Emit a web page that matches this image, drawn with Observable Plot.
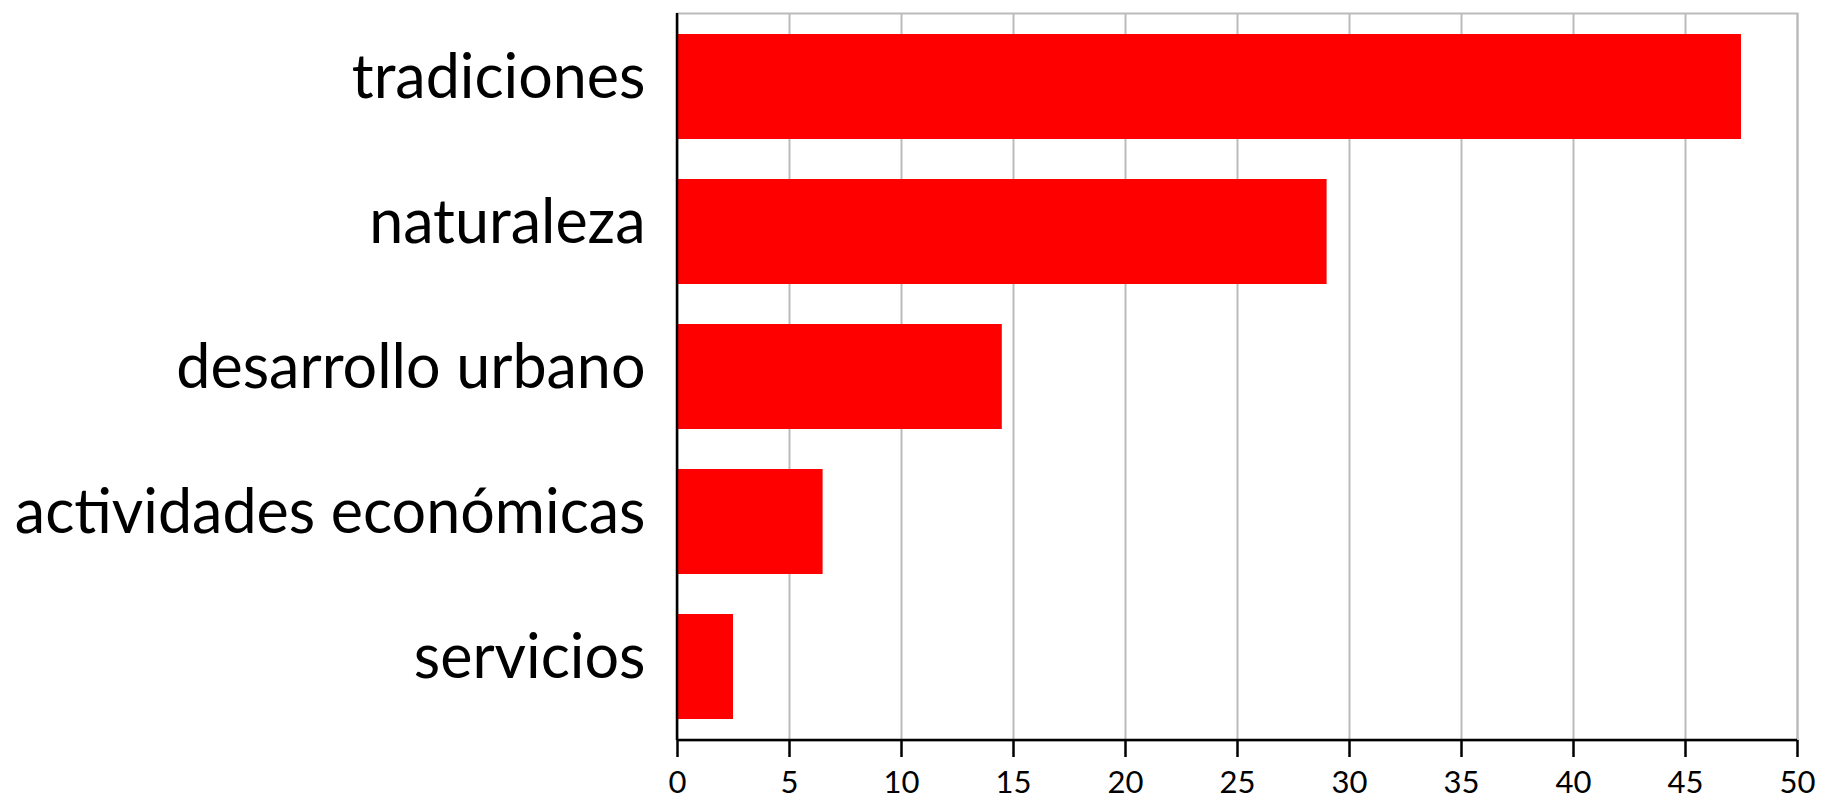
<!DOCTYPE html>
<html>
<head>
<meta charset="utf-8">
<script src="https://cdn.jsdelivr.net/npm/d3@7"></script>
<script src="https://cdn.jsdelivr.net/npm/@observablehq/plot@0.6"></script>
<style>
  html, body { margin: 0; padding: 0; background: #fff; }
  #chart svg { display: block; }
</style>
</head>
<body>
<div id="chart"></div>
<script>
const categories = ["tradiciones", "naturaleza", "desarrollo urbano", "actividades económicas", "servicios"];
const values = [47.5, 29, 14.5, 6.5, 2.5];
const xTicks = [0, 5, 10, 15, 20, 25, 30, 35, 40, 45, 50];

const data = categories.map((c, i) => ({category: c, value: values[i]}));

const axisLines = (index, scales, values, dims) => {
  const g = d3.create("svg:g");
  const x0 = scales.x(0);
  const yTop = dims.marginTop;
  const yBot = dims.height - dims.marginBottom;
  const xRight = dims.width - dims.marginRight;
  g.append("line").attr("x1", x0).attr("x2", x0).attr("y1", yTop).attr("y2", yBot)
    .attr("stroke", "#000").attr("stroke-width", 2.5);
  g.append("line").attr("x1", x0).attr("x2", xRight).attr("y1", yBot).attr("y2", yBot)
    .attr("stroke", "#000").attr("stroke-width", 2.5);
  return g.node();
};

const chart = Plot.plot({
  width: 1823,
  height: 803,
  marginLeft: 677,
  marginRight: 26,
  marginTop: 13,
  marginBottom: 63,
  style: {fontFamily: "Lato, sans-serif", color: "#000", background: "#fff"},
  x: {domain: [0, 50]},
  y: {domain: categories, paddingInner: 0.276, paddingOuter: 0.138},
  marks: [
    Plot.ruleX(xTicks, {stroke: "#bbbbbb", strokeWidth: 2, strokeOpacity: 1}),
    Plot.frame({stroke: "#bbbbbb", strokeWidth: 2}),
    Plot.barX(data, {x: "value", y: "category", fill: "#ff0000"}),
    axisLines,
    Plot.axisX(xTicks, {tickSize: 17, tickPadding: 13, fontSize: 31, stroke: "#000", strokeWidth: 2.5, label: null}),
    Plot.axisY({tickSize: 0, tickPadding: 32, fontSize: 61, dy: -9, label: null})
  ]
});
document.getElementById("chart").appendChild(chart);
</script>
</body>
</html>
